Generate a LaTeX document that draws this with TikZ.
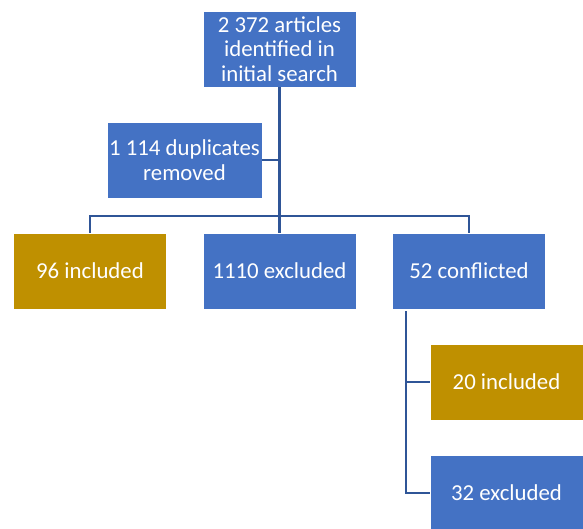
\documentclass[tikz,border=0pt]{standalone}
\usepackage{fontspec}
\setmainfont{Carlito}
\usetikzlibrary{calc}
\definecolor{boxblue}{HTML}{4472C4}
\definecolor{boxgold}{HTML}{BF9000}
\definecolor{linkblue}{HTML}{2F5597}
\tikzset{
  stage/.style={fill=boxblue, draw=white, line width=0.6pt, text=white, align=center,
    minimum width=153pt, minimum height=76pt, inner sep=0pt,
    font=\fontsize{22.8}{24.5}\selectfont},
  kept/.style={stage, fill=boxgold},
  link/.style={draw=linkblue, line width=2.2pt}
}
\begin{document}
\begin{tikzpicture}[x=1pt, y=-1pt]
	%%%%% START %%%%%
	\useasboundingbox (0, 0) rectangle (583, 529);
	\clip (0, 0) rectangle (583, 529);
	
	\node[stage] (search) at (279.5, 49) {2 372 articles\\identified in\\initial search};
	\node[stage, minimum width=155pt] (dupl) at (184.5, 160) {1 114 duplicates\\removed};
	
	\node[kept] (incl) at (90, 271) {96 included};
	\node[stage] (excl) at (279.5, 271) {1110 excluded};
	\node[stage] (confl) at (469, 271) {52 conflicted};
	
	\node[kept] (inclb) at (506.5, 382) {20 included};
	\node[stage] (exclb) at (506.5, 493) {32 excluded};
	
	\coordinate (split) at (279.5, 216);
	\coordinate (cbus) at ($(confl.south west)+(14, 2)$);
	
	\draw[link] (search.south) -- (excl.north);
	\draw[link] (dupl.east) -- (dupl.east -| search.south);
	\draw[link] (incl.north) -- (incl.north |- split) -- (confl.north |- split) -- (confl.north);
	\draw[link] (cbus) |- (inclb.west);
	\draw[link] (cbus) |- (exclb.west);
	%%%%% END %%%%%
\end{tikzpicture}
\end{document}
